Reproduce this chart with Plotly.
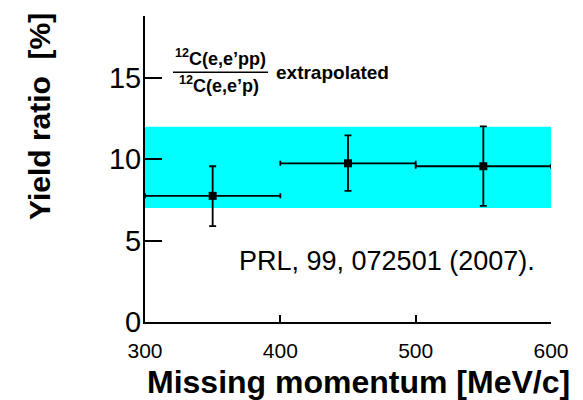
import plotly.graph_objects as go

# Data
pmiss = [350, 450, 550]
pmiss_err = [50, 50, 50]
ratio = [7.75, 9.75, 9.57]
ratio_err_plus = [1.82, 1.72, 2.45]
ratio_err_minus = [1.86, 1.69, 2.44]
band_x = [300, 600]
band_low = 7.0
band_high = 12.0
x_ticks = [300, 400, 500, 600]
y_ticks = [0, 5, 10, 15]

FONT = "Liberation Sans, Arial, Helvetica, sans-serif"

fig = go.Figure()

# cyan band
fig.add_trace(go.Scatter(
    x=[band_x[0], band_x[1], band_x[1], band_x[0], band_x[0]],
    y=[band_low, band_low, band_high, band_high, band_low],
    fill="toself", fillcolor="#00FFFF", line=dict(width=0),
    mode="lines", hoverinfo="skip", showlegend=False,
))

fig.add_trace(go.Scatter(
    x=pmiss, y=ratio, mode="markers",
    marker=dict(symbol="square", size=8, color="black"),
    error_x=dict(type="data", array=pmiss_err, color="black", thickness=1.8, width=2.5),
    error_y=dict(type="data", symmetric=False, array=ratio_err_plus,
                 arrayminus=ratio_err_minus, color="black", thickness=1.8, width=3.5),
    showlegend=False,
))

# page body has an 8px margin, so the figure is 8px smaller and offset
fig.update_layout(
    width=575, height=392,
    margin=dict(l=137, r=32, t=8, b=78, autoexpand=False),
    plot_bgcolor="white", paper_bgcolor="white",
    font=dict(family=FONT, color="black"),
    xaxis=dict(range=[300, 600], tickvals=x_ticks, ticktext=[str(v) for v in x_ticks],
               showgrid=False, zeroline=False, showline=True, linecolor="black", linewidth=2,
               ticks="inside", ticklen=7, tickwidth=1.5, tickcolor="black", automargin=False,
               tickfont=dict(size=21, family=FONT), ticklabelstandoff=9),
    yaxis=dict(range=[0, 18.8], tickvals=y_ticks, ticktext=[str(v) for v in y_ticks],
               showgrid=False, zeroline=False, showline=True, linecolor="black", linewidth=2,
               ticks="inside", ticklen=17, tickwidth=2, tickcolor="black", automargin=False,
               tickfont=dict(size=29, family=FONT), ticklabelstandoff=-4),
)

annotations = [
    dict(text="<b>Missing momentum [MeV/c]</b>", xref="paper", yref="paper",
         x=0.527, y=-0.196, showarrow=False, font=dict(size=32, family=FONT),
         xanchor="center", yanchor="middle"),
    dict(text="<b>Yield ratio\u00a0\u00a0[%]</b>", xref="paper", yref="paper",
         x=-0.2586, y=0.67, showarrow=False, textangle=-90, font=dict(size=30, family=FONT),
         xanchor="center", yanchor="middle"),
    dict(text="PRL, 99, 072501 (2007).", xref="x", yref="y", x=479, y=3.77,
         showarrow=False, font=dict(size=27, family=FONT), xanchor="center", yanchor="middle"),
    dict(text="<b><sup>12</sup>C(e,e\u2019pp)</b>", xref="x", yref="y", x=355.8, y=16.25,
         showarrow=False, font=dict(size=18, family=FONT), xanchor="center", yanchor="middle"),
    dict(text="<b><sup>12</sup>C(e,e\u2019p)</b>", xref="x", yref="y", x=354.7, y=14.6,
         showarrow=False, font=dict(size=18, family=FONT), xanchor="center", yanchor="middle"),
    dict(text="<b>extrapolated</b>", xref="x", yref="y", x=395, y=15.3,
         showarrow=False, font=dict(size=19, family=FONT), xanchor="left", yanchor="middle"),
]
fig.update_layout(annotations=annotations)

shapes = [
    dict(type="line", xref="x", yref="y", x0=320.7, x1=390.9, y0=15.34, y1=15.34,
         line=dict(color="black", width=1.5)),
]
fig.update_layout(shapes=shapes)

fig.write_html("out.html")
